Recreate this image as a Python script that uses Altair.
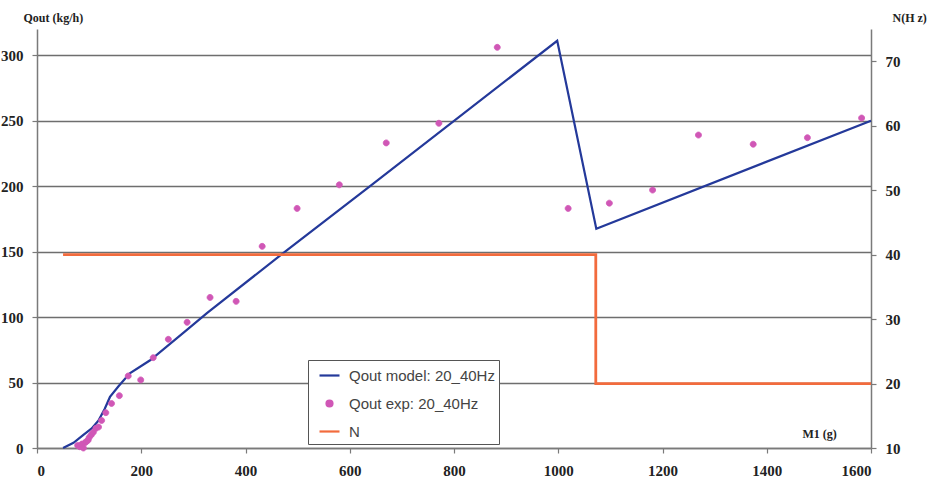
import altair as alt
import pandas as pd

# Model curve: Qout (kg/h) against liquid mass Ml (g)
model_ml = [50, 70, 89, 105, 118, 130, 140, 156, 178, 217, 287, 326, 476, 639, 998, 1073, 1600]
model_qout = [0, 4, 10, 15, 21, 30, 39, 47, 57, 67, 90, 103, 150, 200, 311, 167.5, 250]

# Measured points
exp_ml = [78, 82, 86, 89, 92, 95, 98, 100, 104, 108, 113, 118, 124, 132, 143, 158, 175, 199,
          223, 252, 288, 332, 382, 432, 499, 580, 670, 771, 883, 1019, 1098, 1181, 1269, 1374,
          1478, 1582]
exp_qout = [2, 1, 3, 0, 4, 5, 6, 8, 10, 12, 15, 16, 21, 27, 34, 40, 55, 52,
            69, 83, 96, 115, 112, 154, 183, 201, 233, 248, 306, 183, 187, 197, 239, 232,
            237, 252]

# Pump frequency step (Hz)
n_ml = [50, 1072, 1072, 1600]
n_hz = [40, 40, 20, 20]

S_MODEL = "Qout model: 20_40Hz"
S_EXP = "Qout exp: 20_40Hz"
S_N = "N"
series_names = [S_MODEL, S_EXP, S_N]
series_colors = ["#24399a", "#d057b6", "#f26b3d"]

# Symbol paths in the unit square: a short line for the curves, a small dot for the measurements
LINE_SYMBOL = "M-1,0L1,0"
DOT_SYMBOL = "M-0.3,0a0.3,0.3 0 1,0 0.6,0a0.3,0.3 0 1,0 -0.6,0Z"
series_shapes = [LINE_SYMBOL, DOT_SYMBOL, LINE_SYMBOL]

model_df = pd.DataFrame({"ml": model_ml, "qout": model_qout, "series": S_MODEL,
                         "idx": range(len(model_ml))})
exp_df = pd.DataFrame({"ml": exp_ml, "qout": exp_qout, "series": S_EXP})
n_df = pd.DataFrame({"ml": n_ml, "hz": n_hz, "series": S_N, "idx": range(len(n_ml))})

serif = "Liberation Serif"
sans = "Liberation Sans"

legend = alt.Legend(
    orient="none", legendX=271, legendY=331, direction="vertical",
    labelFont=sans, labelFontSize=15, labelColor="#444444",
    symbolSize=400, symbolStrokeWidth=2.2, symbolOffset=6, symbolOpacity=1,
    labelOffset=8, rowPadding=8, padding=4,
    strokeColor="#555555", fillColor="white",
)

color_scale = alt.Scale(domain=series_names, range=series_colors)
color = alt.Color("series:N", title=None, scale=color_scale, legend=legend)
stroke = alt.Stroke("series:N", title=None, scale=color_scale, legend=legend)
shape = alt.Shape("series:N", title=None,
                  scale=alt.Scale(domain=series_names, range=series_shapes), legend=legend)

x_enc = alt.X("ml:Q",
              scale=alt.Scale(domain=[0, 1600], nice=False),
              axis=alt.Axis(values=list(range(0, 1601, 200)), format="d", title="M1 (g)",
                            titleX=765, titleY=-11, titleAlign="left",
                            titleBaseline="alphabetic", titleAngle=0))

left_scale = alt.Scale(domain=[0, 320], nice=False)
left_axis = alt.Axis(values=list(range(0, 301, 50)), grid=True, title="Qout (kg/h)",
                     titleX=-14, titleY=-8, titleAlign="left", titleAngle=0,
                     titleBaseline="alphabetic")

model_line = alt.Chart(model_df).mark_line(strokeWidth=2.2).encode(
    x=x_enc,
    y=alt.Y("qout:Q", scale=left_scale, axis=left_axis),
    color=color,
    order="idx:Q",
)

exp_points = alt.Chart(exp_df).mark_point(filled=True, opacity=1, size=400,
                                          strokeWidth=0.8).encode(
    x=x_enc,
    y=alt.Y("qout:Q", scale=left_scale, axis=left_axis),
    color=color,
    stroke=stroke,
    shape=shape,
)

n_line = alt.Chart(n_df).mark_line(strokeWidth=2.8).encode(
    x=x_enc,
    y=alt.Y("hz:Q", scale=alt.Scale(domain=[10, 75], nice=False),
            axis=alt.Axis(values=list(range(10, 71, 10)), grid=False, orient="right",
                          title="N(H z)", titleX=21, titleY=-8, titleAlign="left",
                          titleAngle=0, titleBaseline="alphabetic")),
    color=color,
    order="idx:Q",
)

chart = alt.layer(
    alt.layer(model_line, exp_points),
    n_line,
).resolve_scale(y="independent").properties(
    width=834, height=419,
    autosize=alt.AutoSizeParams(type="none"),
    padding={"left": 37, "top": 29, "right": 61, "bottom": 36},
    background="white",
).configure_view(stroke=None).configure_axis(
    labelFont=serif, labelFontWeight="bold", labelFontSize=15, labelColor="#222222",
    titleFont=serif, titleFontWeight="bold", titleFontSize=12, titleColor="#222222",
    domainColor="#7a7a7a", domainWidth=1.5,
    tickColor="#7a7a7a", tickWidth=1.2, tickSize=5,
    gridColor="#6e6e6e", gridWidth=1.4,
    labelPadding=9,
).configure_axisX(labelPadding=10, grid=False)

chart.save("out.html", embed_options={"renderer": "svg", "actions": False})
